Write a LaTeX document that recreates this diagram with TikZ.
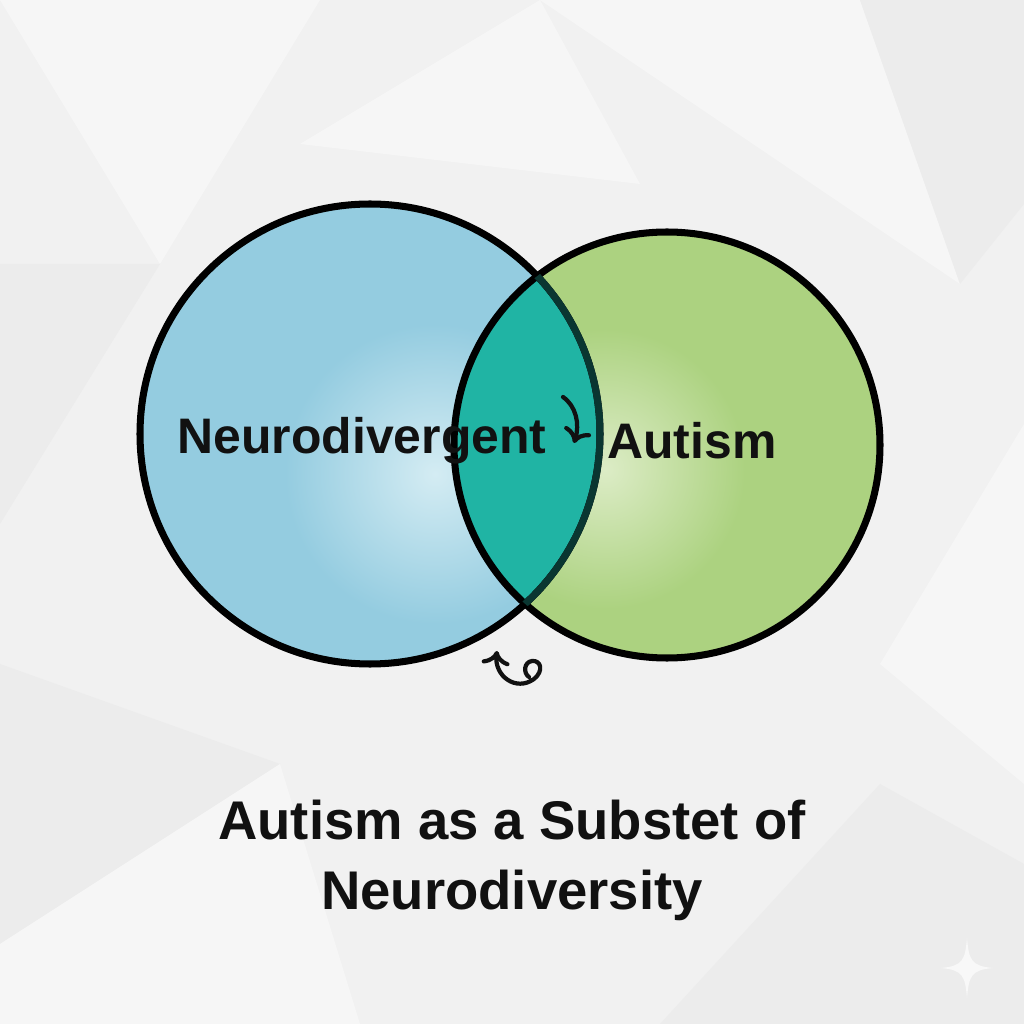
\documentclass[tikz,border=0pt]{standalone}
\usepackage{fontspec}
\setmainfont{Liberation Sans}
\usetikzlibrary{arrows.meta,positioning}
\definecolor{bgGrey}{RGB}{241,241,241}
\definecolor{facetGrey}{RGB}{236,236,236}
\definecolor{facetLight}{RGB}{246,246,246}
\definecolor{ndBlue}{RGB}{148,204,224}
\definecolor{ndLight}{RGB}{212,236,243}
\definecolor{autGreen}{RGB}{172,210,128}
\definecolor{autLight}{RGB}{220,236,198}
\definecolor{overlapTeal}{RGB}{32,180,164}
\definecolor{inkDark}{RGB}{17,17,17}

\begin{document}
\begin{tikzpicture}[
	setlabel/.style={font=\bfseries\fontsize{14.2}{17}\selectfont, text=inkDark},
	titlelabel/.style={font=\bfseries\fontsize{15.5}{19.9}\selectfont, text=inkDark, align=center},
	ring/.style={draw=black, line width=2pt},
	squiggle/.style={line width=1.2pt, draw=inkDark, line cap=round, line join=round}]
	% background with faint facets
	\fill[bgGrey] (0,0) rectangle (10.24,10.24);
	\useasboundingbox (0,0) rectangle (10.24,10.24);
	\fill[facetLight] (0,10.24) -- (3.2,10.24) -- (1.6,7.6) -- cycle;
	\fill[facetGrey] (0,7.6) -- (1.6,7.6) -- (0,5.0) -- cycle;
	\fill[facetLight] (5.4,10.24) -- (8.6,10.24) -- (9.6,7.4) -- cycle;
	\fill[facetGrey] (8.6,10.24) -- (10.24,10.24) -- (10.24,8.2) -- (9.6,7.4) -- cycle;
	\fill[facetLight] (10.24,6.0) -- (8.8,3.6) -- (10.24,2.4) -- cycle;
	\fill[facetGrey] (0,3.6) -- (2.8,2.6) -- (0,0.8) -- cycle;
	\fill[facetLight] (0,0) -- (3.6,0) -- (2.8,2.6) -- (0,0.8) -- cycle;
	\fill[facetGrey] (6.6,0) -- (10.24,0) -- (10.24,1.6) -- (8.8,2.4) -- cycle;
	\fill[facetLight] (3.0,8.8) -- (5.4,10.24) -- (6.4,8.4) -- cycle;

	% the two sets
	\node[circle, minimum size=4.6cm, inner sep=0pt] (ndSet) at (3.70,5.90) {};
	\node[circle, minimum size=4.26cm, inner sep=0pt] (autSet) at (6.67,5.79) {};
	\begin{scope}
		\clip (ndSet.center) circle[radius=2.3];
		\fill[ndBlue] (ndSet.center) circle[radius=2.3];
		\shade[inner color=ndLight, outer color=ndBlue] (4.35,5.50) circle[radius=1.5];
	\end{scope}
	\begin{scope}
		\clip (autSet.center) circle[radius=2.13];
		\fill[autGreen] (autSet.center) circle[radius=2.13];
		\shade[inner color=autLight, outer color=autGreen] (6.05,5.55) circle[radius=1.4];
		\clip (ndSet.center) circle[radius=2.3];
		\fill[overlapTeal] (ndSet.center) circle[radius=2.3];
	\end{scope}
	\draw[ring] (autSet.center) circle[radius=2.13];
	\draw[ring] (ndSet.center) circle[radius=2.3];
	\begin{scope}
		\clip (autSet.center) circle[radius=2.13];
		\draw[line width=2pt, draw=black!70!overlapTeal] (ndSet.center) circle[radius=2.3];
	\end{scope}

	% labels
	\node[setlabel] (ndText) at (3.62,5.83) {Neurodivergent};
	\node[setlabel] (autText) at (6.92,5.83) {Autism};
	\node[titlelabel] (title) at (5.12,1.64) {Autism as a Substet of\\Neurodiversity};

	% little hand drawn arrows
	\coordinate (curlA) at (5.63,6.27);
	\coordinate (curlB) at (5.74,5.81);
	\draw[squiggle, -{Computer Modern Rightarrow[length=1.4mm, width=2.8mm]}] (curlA) .. controls (5.76,6.18) and (5.80,6.00) .. (curlB);
	\coordinate (loopTip) at (4.97,3.73);
	\coordinate (loopEnd) at (5.29,3.47);
	\draw[squiggle, {Computer Modern Rightarrow[length=1.4mm, width=2.8mm]}-] (loopTip) .. controls (4.94,3.48) and (5.16,3.32) .. (5.34,3.45) .. controls (5.44,3.53) and (5.41,3.64) .. (5.32,3.63) .. controls (5.24,3.62) and (5.23,3.51) .. (loopEnd);

	% sparkle
	\fill[white!50!bgGrey] (9.67,0.86) .. controls (9.69,0.64) and (9.71,0.58) .. (9.93,0.56) .. controls (9.71,0.54) and (9.69,0.48) .. (9.67,0.26) .. controls (9.65,0.48) and (9.63,0.54) .. (9.41,0.56) .. controls (9.63,0.58) and (9.65,0.64) .. cycle;
\end{tikzpicture}
\end{document}
